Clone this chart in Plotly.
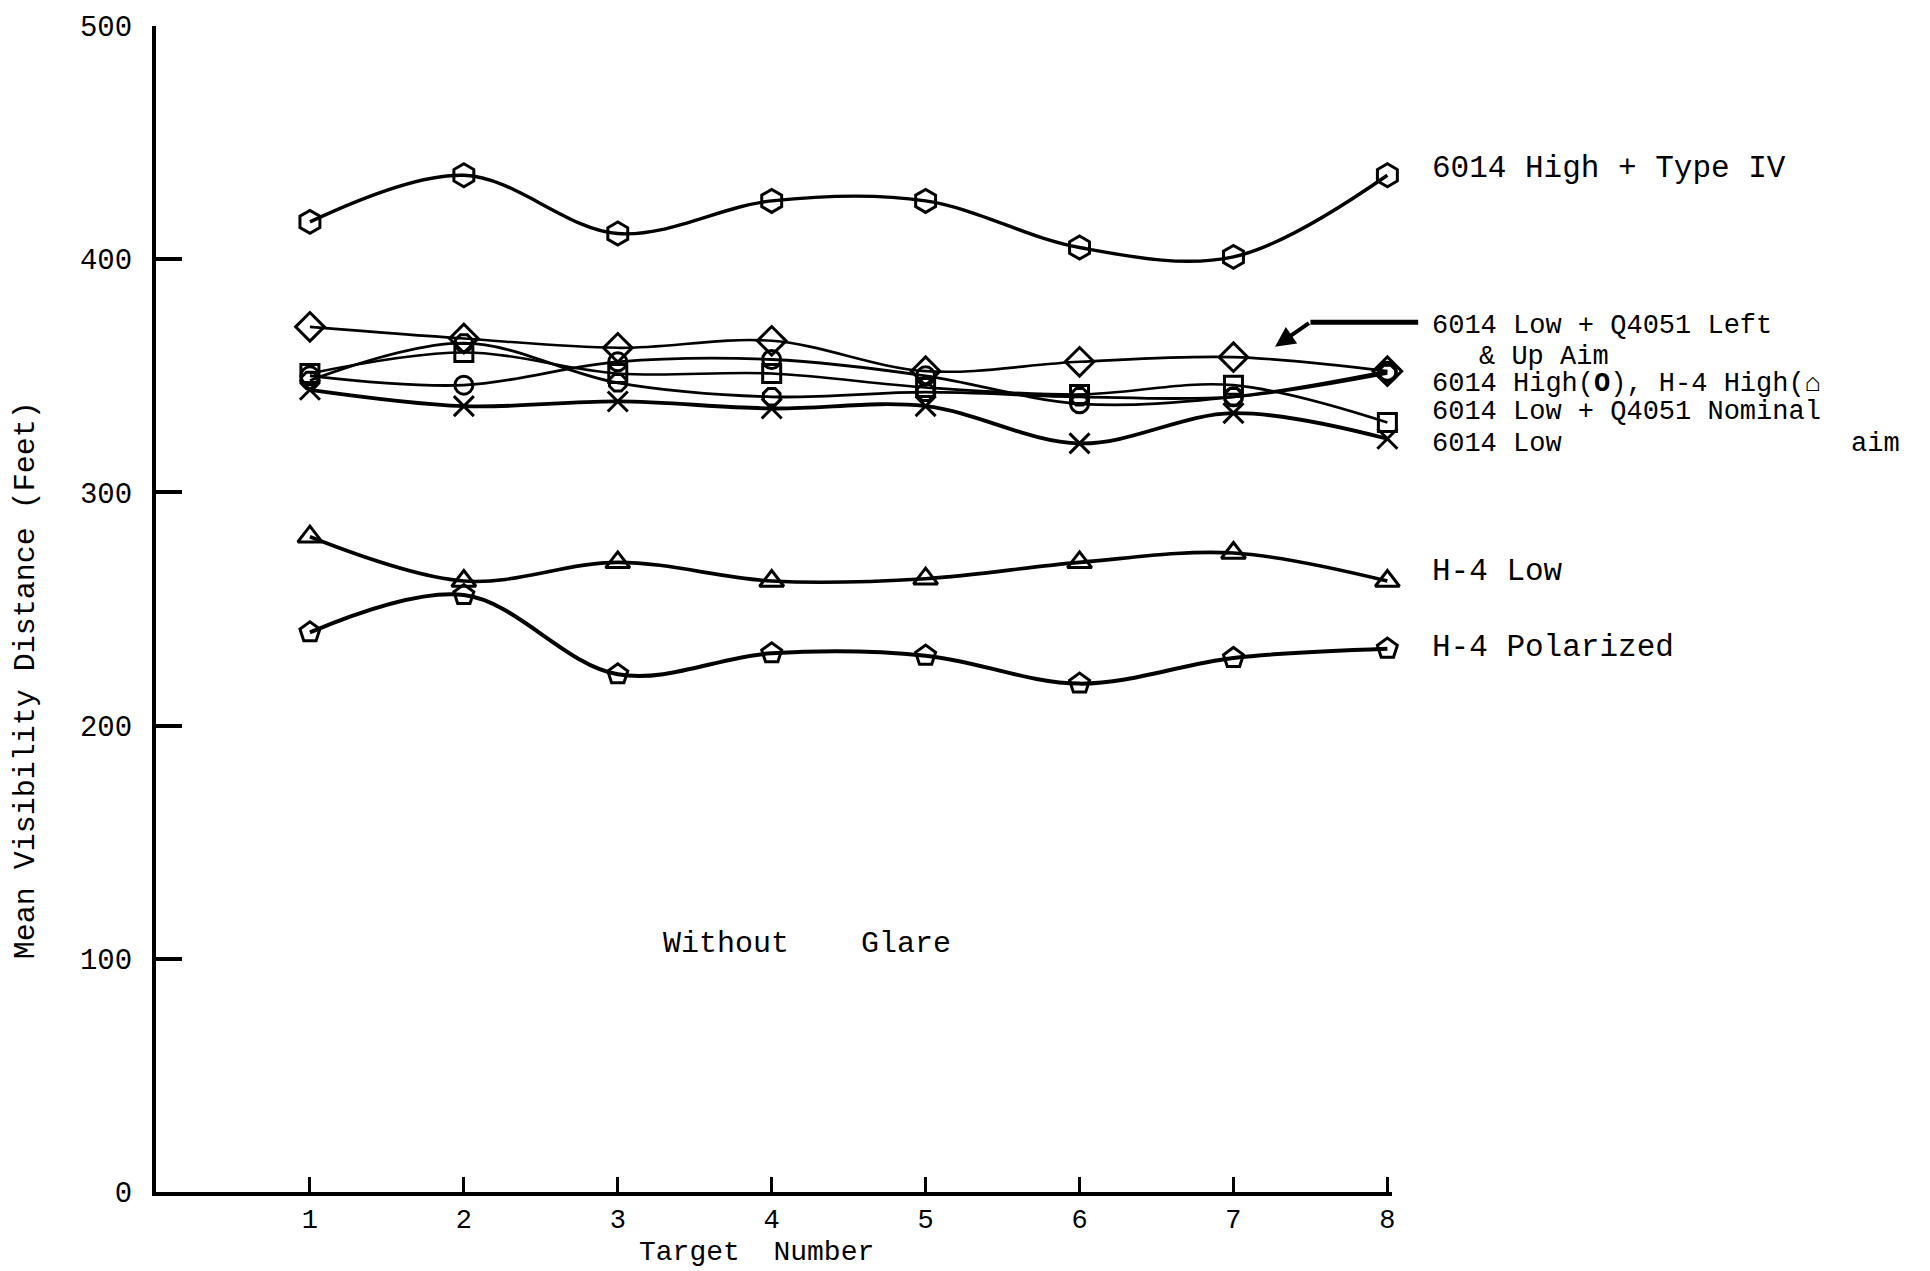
import plotly.graph_objects as go

targets = [1, 2, 3, 4, 5, 6, 7, 8]
high_type4 = [416, 436, 411, 425, 425, 405, 401, 436]
low_leftup = [371, 366, 362, 365, 352, 356, 358, 352]
high_6014 = [350, 346, 356, 357, 350, 338, 341, 352]
high_h4 = [348, 364, 347, 341, 343, 341, 341, 351]
low_nominal = [351, 360, 351, 351, 345, 342, 346, 330]
low_6014 = [344, 337, 339, 336, 337, 321, 334, 323]
h4_low = [281, 262, 270, 262, 263, 270, 274, 262]
h4_polar = [240, 256, 222, 231, 230, 218, 229, 233]

y_ticks = [0, 100, 200, 300, 400, 500]

FONT = "Liberation Mono, Courier New, monospace"
XMAX = 8.03
YMAX = 500

series = [
    ("6014 High + Type IV", high_type4, "hexagon-open", 3.4, 23),
    ("6014 Low + Q4051 Left & Up Aim", low_leftup, "diamond-open", 2.6, 22),
    ("6014 High", high_6014, "circle-open", 2.8, 18),
    ("H-4 High", high_h4, "octagon-open", 2.8, 18),
    ("6014 Low + Q4051 Nominal aim", low_nominal, "square-open", 2.6, 18),
    ("6014 Low", low_6014, "x-thin-open", 3.8, 20),
    ("H-4 Low", h4_low, "triangle-up-open", 3.6, 21),
    ("H-4 Polarized", h4_polar, "pentagon-open", 4.0, 21),
]

fig = go.Figure()
for name, vals, sym, lw, ms in series:
    fig.add_trace(go.Scatter(
        x=targets, y=vals, name=name, mode="lines+markers",
        line=dict(color="black", width=lw, shape="spline", smoothing=1.0),
        marker=dict(symbol=sym, size=ms, color="black",
                    line=dict(color="black", width=3)),
        cliponaxis=False, showlegend=False,
    ))


def px(x):
    return x / XMAX


def py(y):
    return y / YMAX


labels = [
    ("6014 High + Type IV", 8.28, 438.7, 31),
    ("6014 Low + Q4051 Left", 8.28, 371.4, 27),
    ("& Up Aim", 8.58, 358.2, 27),
    ("6014 High(<b>O</b>), H-4 High(<b>\u2302</b>", 8.28, 346.3, 27),
    ("6014 Low + Q4051 Nominal", 8.28, 334.3, 27),
    ("6014 Low", 8.28, 320.7, 27),
    ("aim", 11.0, 320.7, 27),
    ("H-4 Low", 8.28, 266.2, 31),
    ("H-4 Polarized", 8.28, 233.4, 31),
]
for txt, x, y, fs in labels:
    fig.add_annotation(x=px(x), y=py(y), xref="paper", yref="paper", text=txt,
                       showarrow=False, xanchor="left", yanchor="middle",
                       font=dict(family=FONT, size=fs, color="black"))

fig.add_annotation(x=px(3.28), y=py(106.5), xref="paper", yref="paper",
                   text="Without\u00a0\u00a0\u00a0\u00a0Glare",
                   showarrow=False, xanchor="left", yanchor="middle",
                   font=dict(family=FONT, size=30, color="black"))

# pointer arrow
fig.add_shape(type="line", xref="paper", yref="paper", x0=px(7.5), y0=py(373),
              x1=px(8.2), y1=py(373), line=dict(color="black", width=5))
fig.add_annotation(x=7.27, y=362.5, ax=7.5, ay=373, xref="x", yref="y",
                   axref="x", ayref="y",
                   text="", showarrow=True, arrowhead=2, arrowsize=1.0, arrowwidth=4,
                   arrowcolor="black")

# axis titles
fig.add_annotation(x=-0.1045, y=0.4387, xref="paper", yref="paper",
                   text="Mean Visibility Distance (Feet)", textangle=-90, showarrow=False,
                   xanchor="center", yanchor="middle",
                   font=dict(family=FONT, size=30, color="black"))
fig.add_annotation(x=px(3.9), y=py(-26), xref="paper", yref="paper",
                   text="Target\u00a0\u00a0Number",
                   showarrow=False, xanchor="center", yanchor="middle",
                   font=dict(family=FONT, size=28, color="black"))

fig.update_layout(
    width=1930, height=1271,
    margin=dict(l=156, r=538, t=18, b=79),
    paper_bgcolor="white", plot_bgcolor="white",
    font=dict(family=FONT, color="black"),
    xaxis=dict(range=[0, XMAX], tickvals=targets, ticktext=[str(t) for t in targets],
               ticks="inside", ticklen=15, tickwidth=3, tickcolor="black",
               showline=True, linecolor="black", linewidth=4, showgrid=False,
               zeroline=False, tickfont=dict(family=FONT, size=27, color="black")),
    yaxis=dict(range=[0, YMAX], tickvals=y_ticks, ticks="inside", ticklen=26, tickwidth=4,
               tickcolor="black", showline=True, linecolor="black", linewidth=4,
               showgrid=False, zeroline=False, ticklabelstandoff=14,
               tickfont=dict(family=FONT, size=29, color="black")),
)

fig.write_html("out.html", config={"displayModeBar": False},
               post_script="document.body.style.margin='0';document.body.style.overflow='hidden';")
